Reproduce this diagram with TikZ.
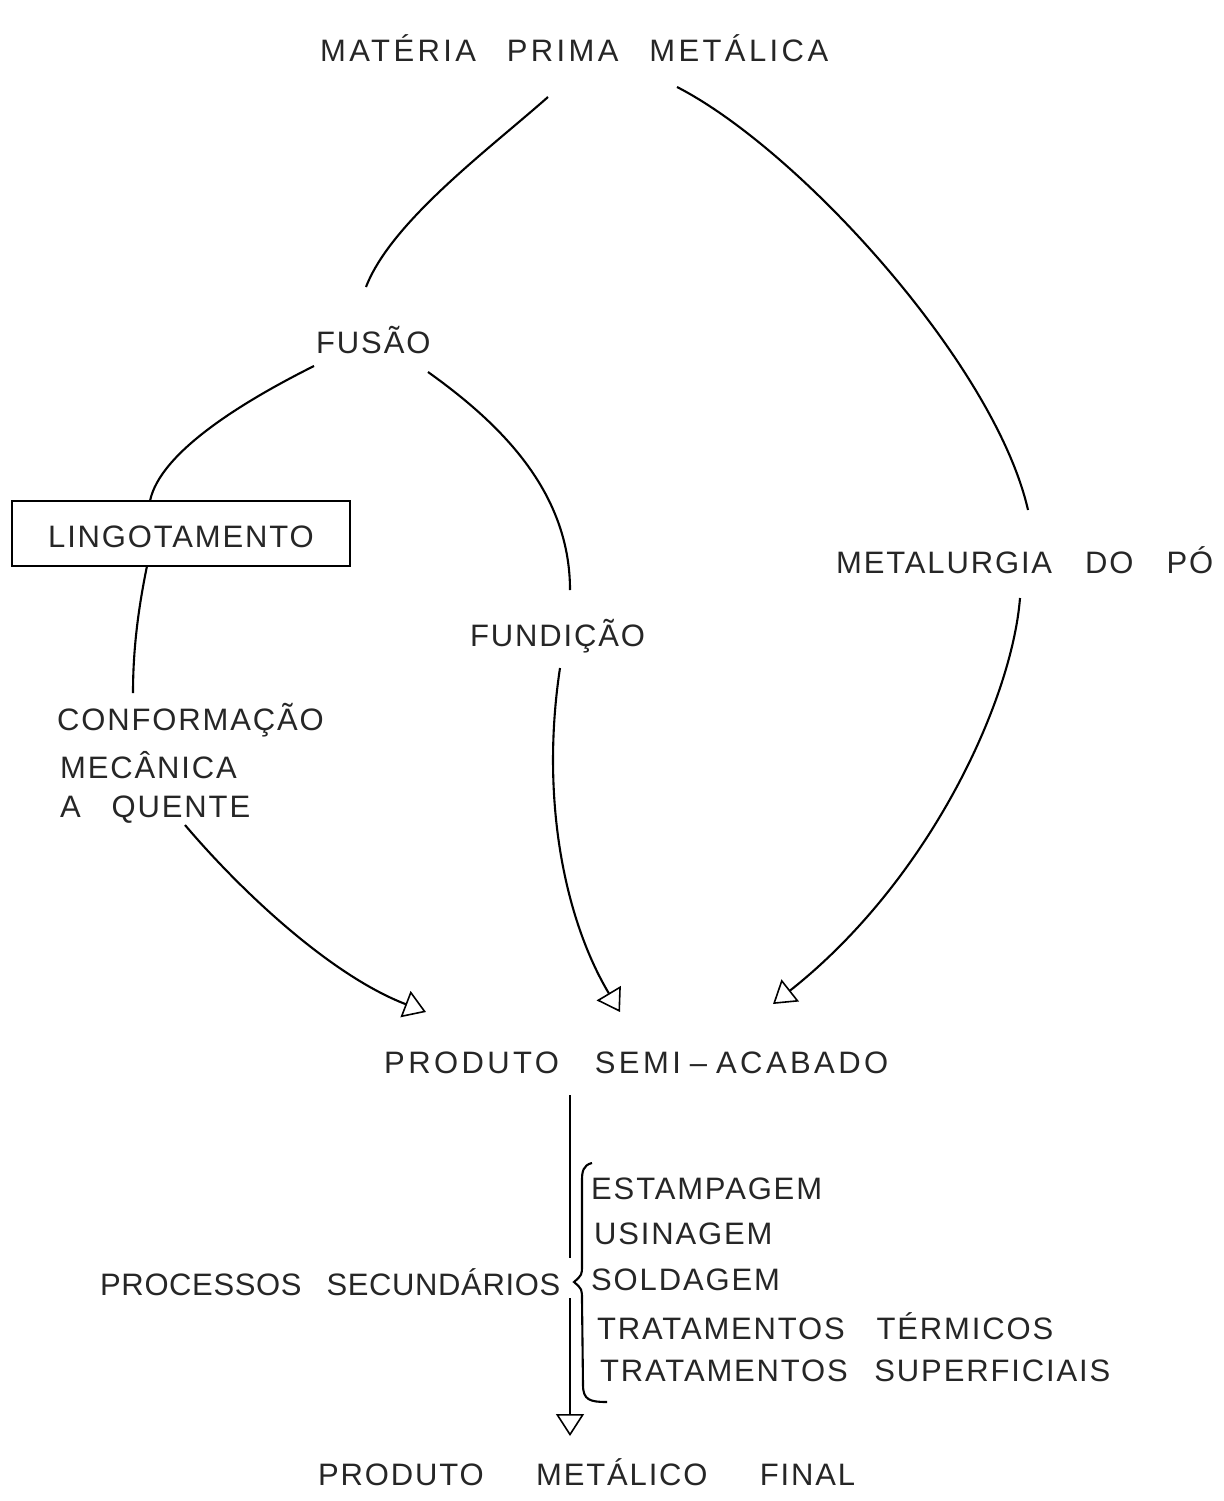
\documentclass[tikz,border=0pt]{standalone}
\usepackage{fontspec}
\setmainfont{Liberation Sans}[LetterSpace=6]
\usetikzlibrary{arrows.meta}
\tikzset{
  lbl/.style={anchor=west, inner sep=0pt, text=black!85, font=\fontsize{31}{37}\selectfont},
  lbltight/.style={lbl, font=\fontsize{31}{37}\selectfont\addfontfeature{LetterSpace=2}},
  lblwide/.style={lbl, font=\fontsize{31}{37}\selectfont\addfontfeature{LetterSpace=11}},
  conn/.style={line width=2.1pt, black},
  arr/.style={conn, -{Triangle[open,length=22pt,width=28pt,line width=1.6pt]}},
  boxed/.style={draw, line width=2.1pt, minimum width=338pt, minimum height=65pt, inner sep=0pt},
}
\newcommand{\fitline}[2]{\makebox[#1pt][s]{#2}}
\begin{document}
\begin{tikzpicture}[x=1pt,y=-1pt]
\useasboundingbox (0,0) rectangle (1223,1501);
% texts
\node[lblwide] (mat) at (320,48) {\fitline{508}{MATÉRIA\hfill PRIMA\hfill METÁLICA}};
\node[lbl] (fus) at (316,340) {FUSÃO};
\node[boxed] (box) at (181,533.5) {};
\node[lbl] (lin) at (48,537) {LINGOTAMENTO};
\node[lbl] (met) at (836,560) {\fitline{377}{METALURGIA\hfill DO\hfill PÓ}};
\node[lbl] (fun) at (470,636) {FUNDIÇÃO};
\node[lbl] (con1) at (57,720) {CONFORMAÇÃO};
\node[lbl] (con2) at (60,765) {MECÂNICA};
\node[lbl] (con3) at (60,810) {\fitline{190}{A\hfill QUENTE}};
\node[lblwide] (semi) at (384,1063) {\fitline{504}{PRODUTO\hfill SEMI\hspace{9pt}–\hspace{9pt}ACABADO}};
\node[lbltight] (proc) at (100,1282) {\fitline{460}{PROCESSOS\hfill SECUNDÁRIOS}};
\node[lbl] (l1) at (591,1189) {ESTAMPAGEM};
\node[lbl] (l2) at (594,1234) {USINAGEM};
\node[lbl] (l3) at (591,1280) {SOLDAGEM};
\node[lbl] (l4) at (597,1326) {\fitline{456}{TRATAMENTOS\hfill TÉRMICOS}};
\node[lbl] (l5) at (600,1371) {\fitline{510}{TRATAMENTOS\hfill SUPERFICIAIS}};
\node[lbl] (fin) at (318,1472) {\fitline{537}{PRODUTO\hfill METÁLICO\hfill FINAL}};
% connector end points
\coordinate (a1) at (548,97);   \coordinate (a2) at (366,287);
\coordinate (b1) at (677,87);   \coordinate (b2) at (1028,510);
\coordinate (c1) at (314,366);  \coordinate (c2) at (150,501);
\coordinate (d1) at (428,372);  \coordinate (d2) at (570,590);
\coordinate (e1) at (147,566);  \coordinate (e2) at (133,693);
\coordinate (f1) at (185,825);  \coordinate (f2) at (426,1012);
\coordinate (g1) at (560,668);  \coordinate (g2) at (620,1012);
\coordinate (h1) at (1020,598); \coordinate (h2) at (773,1004);
\coordinate (v1) at (570,1095); \coordinate (v2) at (570,1258);
\coordinate (v3) at (570,1298); \coordinate (v4) at (570,1436);
% connectors
\draw[conn] (a1) .. controls (488,150) and (391,222) .. (a2);
\draw[conn] (b1) .. controls (800,150) and (995,365) .. (b2);
\draw[conn] (c1) .. controls (244,401) and (160,452) .. (c2);
\draw[conn] (d1) .. controls (498,422) and (570,490) .. (d2);
\draw[conn] (e1) .. controls (138,610) and (133,650) .. (e2);
\draw[arr] (f1) .. controls (240,890) and (330,975) .. (f2);
\draw[arr] (g1) .. controls (540,800) and (565,920) .. (g2);
\draw[arr] (h1) .. controls (1012,700) and (930,880) .. (h2);
\draw[conn] (v1) -- (v2);
\draw[arr] (v3) -- (v4);
% brace
\draw[conn] (592,1163) .. controls (583,1165) and (582,1172) .. (582,1180)
  -- (582,1265) .. controls (582,1275) .. (574,1282)
  .. controls (582,1289) .. (582,1300)
  -- (583,1385) .. controls (583,1400) and (590,1402) .. (607,1402);
\end{tikzpicture}
\end{document}
